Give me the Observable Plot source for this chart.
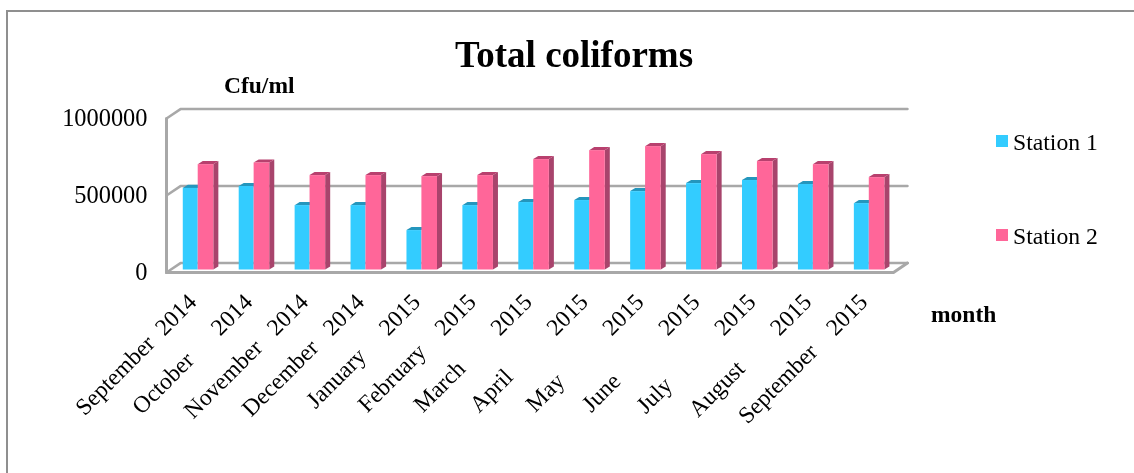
<!DOCTYPE html>
<html>
<head>
<meta charset="utf-8">
<script src="https://cdn.jsdelivr.net/npm/d3@7"></script>
<script src="https://cdn.jsdelivr.net/npm/@observablehq/plot@0.6"></script>
<style>
html,body{margin:0;padding:0;background:#fff}
body{width:1134px;height:473px;overflow:hidden;position:relative;font-family:"Liberation Serif",serif;color:#000}
#wrap{position:absolute;left:0;top:0;width:1134px;height:473px;filter:blur(0.45px)}
#frame{position:absolute;left:6px;top:10px;width:1140px;height:480px;border:2px solid #8f8f8f;border-right:none;box-sizing:border-box;pointer-events:none}
.t{position:absolute;white-space:nowrap;line-height:1}
.sw{position:absolute;width:12px;height:12px}
#chart{position:absolute;left:0;top:0}
#chart svg{overflow:visible;display:block}
#chart text{white-space:pre}
</style>
</head>
<body>
<div id="wrap">
<div id="chart"></div>
<div id="frame"></div>
<div class="t" style="left:455px;top:36px;font-size:37px;font-weight:bold">Total coliforms</div>
<div class="t" style="left:224px;top:74px;font-size:23.5px;font-weight:bold">Cfu/ml</div>
<div class="t" style="left:931px;top:303px;font-size:23.5px;font-weight:bold">month</div>
<div class="sw" style="left:996px;top:135px;background:#33ccff"></div>
<div class="t" style="left:1013px;top:131px;font-size:23.7px">Station 1</div>
<div class="sw" style="left:996px;top:229px;background:#ff6699"></div>
<div class="t" style="left:1013px;top:225px;font-size:23.7px">Station 2</div>
</div>
<script>
const labels = [
  "September  2014",
  "October      2014",
  "November   2014",
  "December   2014",
  "January     2015",
  "February    2015",
  "March        2015",
  "April          2015",
  "May           2015",
  "June           2015",
  "July            2015",
  "August        2015",
  "September    2015"
];
const station1 = [530000,542000,418000,418000,256000,418000,438000,451000,509000,561000,581000,555000,431000];
const station2 = [684000,695000,613000,613000,606000,613000,717000,775000,801000,749000,704000,684000,600000];

const blue = "#33ccff", pink = "#ff6699";
const blueTop = "#2496bd", pinkTop = "#b8406e", pinkSide = "#a8446c";
const wall = "#a8a8a8";
const n = labels.length;
const backX = 0.25, backY = 61000;   // depth of the box
const depthX = 0.09, depthY = 20000; // depth of a bar
const barLift = -2.5;                // bars stand a little behind the front edge

const idx = d3.range(n);
const rows = (vals, a, b) => idx.map(i => ({id: i, x1: i + a, x2: i + b, v: vals[i]}));
const blues = rows(station1, 0.30, 0.567);
const pinks = rows(station2, 0.567, 0.846);
const side = rs => rs.flatMap(r => [
  {id: r.id, x1: r.x2, x2: r.x2, y1: 0, y2: r.v},
  {id: r.id, x1: r.x2 + depthX, x2: r.x2 + depthX, y1: depthY, y2: r.v + depthY}
]);
const cap = rs => rs.flatMap(r => [
  {id: r.id, x1: r.x1, x2: r.x2, y1: r.v, y2: r.v},
  {id: r.id, x1: r.x1 + depthX, x2: r.x2 + depthX, y1: r.v + depthY, y2: r.v + depthY}
]);
const ticks = [0, 500000, 1000000];
const gridBack = ticks.flatMap(t => [
  {g: t, x: 0, y: t}, {g: t, x: backX, y: t + backY}, {g: t, x: n + backX, y: t + backY}
]);
const floorFront = [{x: 0, y: 0}, {x: n, y: 0}, {x: n + backX, y: backY}];
const wallFront = [{x: 0, y: 0}, {x: 0, y: 1000000}];
const area3 = (d, fill) => Plot.area(d, {x1: "x1", x2: "x2", y1: "y1", y2: "y2", z: "id", fill, dy: barLift, curve: "linear"});

const plot = Plot.plot({
  width: 1134, height: 473,
  marginLeft: 166, marginRight: 241, marginTop: 118, marginBottom: 201,
  style: {background: "transparent", fontFamily: "Liberation Serif, serif", color: "#000"},
  x: {domain: [0, n], axis: null},
  y: {domain: [0, 1000000], axis: null},
  marks: [
    Plot.line(gridBack, {x: "x", y: "y", z: "g", stroke: wall, strokeWidth: 2.5, curve: "linear"}),
    Plot.line(floorFront, {x: "x", y: "y", stroke: wall, strokeWidth: 3, curve: "linear"}),
    Plot.line(wallFront, {x: "x", y: "y", stroke: wall, strokeWidth: 3}),
    Plot.axisY(ticks, {anchor: "left", tickSize: 0, tickPadding: 19, fontSize: 24.4, tickFormat: d => String(d), label: null, fill: "#000"}),
    area3(cap(blues), blueTop),
    Plot.rectY(blues, {x1: "x1", x2: "x2", y1: 0, y2: "v", fill: blue, dy: barLift}),
    area3(side(pinks), pinkSide),
    area3(cap(pinks), pinkTop),
    Plot.rectY(pinks, {x1: "x1", x2: "x2", y1: 0, y2: "v", fill: pink, dy: barLift}),
    Plot.text(idx, {x: i => i + 0.5, y: () => 0, text: i => labels[i], rotate: -45, textAnchor: "end", dx: -2, dy: 25.5, fontSize: 23.6, fill: "#000"})
  ]
});
document.getElementById("chart").appendChild(plot);
</script>
</body>
</html>
